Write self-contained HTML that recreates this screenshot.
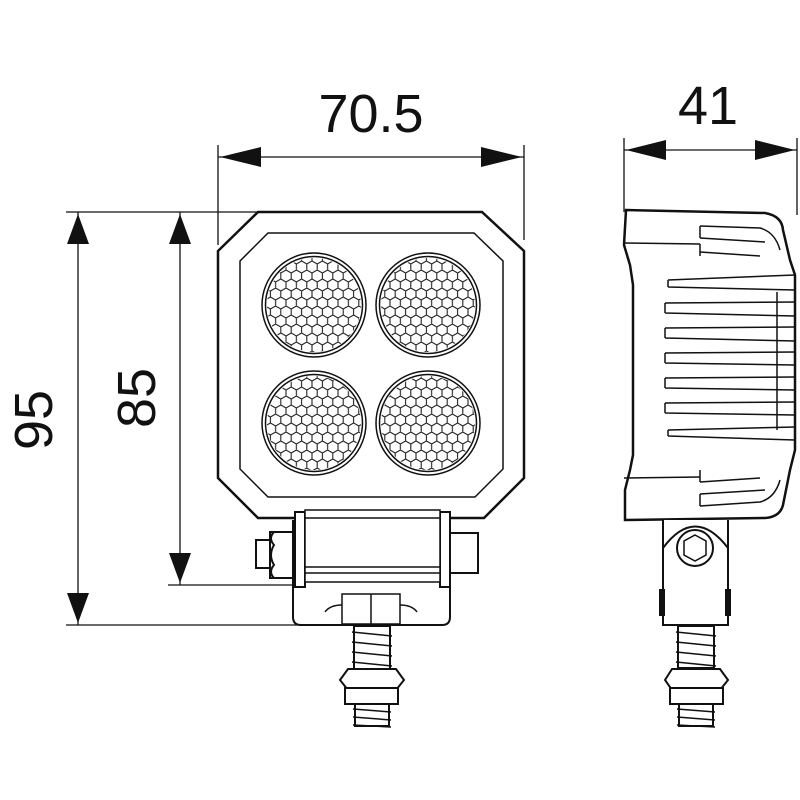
<!DOCTYPE html>
<html><head><meta charset="utf-8"><style>
html,body{margin:0;padding:0;background:#fff;}
svg{display:block;}
text{font-family:"Liberation Sans",sans-serif;fill:#111;}
</style></head><body>
<svg width="800" height="800" viewBox="0 0 800 800" xmlns="http://www.w3.org/2000/svg">
<defs>
<pattern id="hex" width="10.4" height="18" patternUnits="userSpaceOnUse">
<path d="M0,3 L5.2,0 L10.4,3 L10.4,9 L5.2,12 L0,9 Z M5.2,12 L5.2,18 M0,9 L0,3" fill="none" stroke="#222" stroke-width="1.1"/>
</pattern>
<clipPath id="c1"><circle cx="314" cy="305" r="47"/></clipPath>
<clipPath id="c2"><circle cx="428" cy="305" r="47"/></clipPath>
<clipPath id="c3"><circle cx="314" cy="423" r="47"/></clipPath>
<clipPath id="c4"><circle cx="428" cy="423" r="47"/></clipPath>
</defs>
<g stroke="#111" fill="none">
<!-- dimension lines -->
<g stroke-width="1.3">
<line x1="218" y1="145" x2="218" y2="245"/>
<line x1="524" y1="145" x2="524" y2="240"/>
<line x1="218" y1="157" x2="524" y2="157"/>
<line x1="624" y1="138" x2="624" y2="212"/>
<line x1="797" y1="138" x2="797" y2="215"/>
<line x1="624" y1="150" x2="797" y2="150"/>
<line x1="66" y1="212" x2="300" y2="212"/>
<line x1="168" y1="585" x2="292" y2="585"/>
<line x1="66" y1="625" x2="300" y2="625"/>
<line x1="78" y1="212" x2="78" y2="625"/>
<line x1="180" y1="212" x2="180" y2="585"/>
</g>
</g>
<g fill="#111">
<polygon points="220,157 261,147 261,167"/>
<polygon points="522,157 481,147 481,167"/>
<polygon points="626,150 666,140 666,160"/>
<polygon points="795,150 755,140 755,160"/>
<polygon points="78,214 67,244 89,244"/>
<polygon points="78,623 67,593 89,593"/>
<polygon points="180,214 169,244 191,244"/>
<polygon points="180,583 169,553 191,553"/>
</g>
<text x="371" y="132" font-size="54" text-anchor="middle">70.5</text>
<text x="708" y="124" font-size="54" text-anchor="middle">41</text>
<text transform="translate(52,420) rotate(-90)" font-size="54" text-anchor="middle">95</text>
<text transform="translate(155,398) rotate(-90)" font-size="54" text-anchor="middle">85</text>

<!-- front view -->
<g stroke="#111" fill="none">
<path d="M258,212 L482,212 L524,251 L524,478 L484,518 L258,518 L218,478 L218,251 Z" stroke-width="2.5" fill="#fff"/>
<path d="M268,233 L474,233 L503,261 L503,469 L475,497 L268,497 L240,469 L240,261 Z" stroke-width="1.5"/>
<g stroke-width="1.5">
<circle cx="314" cy="305" r="52"/><circle cx="314" cy="305" r="48.5"/>
<circle cx="428" cy="305" r="52"/><circle cx="428" cy="305" r="48.5"/>
<circle cx="314" cy="423" r="52"/><circle cx="314" cy="423" r="48.5"/>
<circle cx="428" cy="423" r="52"/><circle cx="428" cy="423" r="48.5"/>
</g>
<rect x="262" y="253" width="104" height="104" fill="url(#hex)" clip-path="url(#c1)" stroke="none"/>
<rect x="376" y="253" width="104" height="104" fill="url(#hex)" clip-path="url(#c2)" stroke="none"/>
<rect x="262" y="371" width="104" height="104" fill="url(#hex)" clip-path="url(#c3)" stroke="none"/>
<rect x="376" y="371" width="104" height="104" fill="url(#hex)" clip-path="url(#c4)" stroke="none"/>
<!-- bracket -->
<g stroke-width="2">
<path d="M293,520 L293,617 Q293,625 301,625 L442,625 Q450,625 450,617 L450,520" fill="#fff"/>
<rect x="295" y="512" width="10" height="75" fill="#fff"/>
<rect x="440" y="512" width="10" height="75" fill="#fff"/>
<rect x="305" y="510" width="135" height="72" fill="#fff" stroke-width="1.5"/>
<line x1="305" y1="518" x2="440" y2="518" stroke-width="1.5"/>
<line x1="305" y1="567" x2="440" y2="567" stroke-width="1.5"/>
<line x1="305" y1="573" x2="440" y2="573" stroke-width="1.5"/>
<rect x="256" y="540" width="14" height="28" fill="#fff"/>
<path d="M270,532 L293,532 L293,578 L270,578 Z" fill="#fff"/>
<path d="M274,532 Q268,538 274,545 Q268,555 274,565 Q268,572 274,578" />
<rect x="450" y="533" width="28" height="40" fill="#fff"/>
<rect x="342" y="594" width="58" height="30" fill="#fff" stroke-width="1.5"/>
<line x1="371" y1="594" x2="371" y2="624" stroke-width="1.5"/>
<path d="M325,612 Q330,605 342,605 M400,605 Q412,605 417,612" stroke-width="1.5"/>
</g>
<!-- bolt front -->
<g stroke-width="2" fill="#fff">
<rect x="354" y="626" width="36" height="46"/>
<path d="M352,632 L392,636 M352,642 L392,646 M352,652 L392,656 M352,662 L392,666" stroke-width="1.5"/>
<path d="M340,680 L348,669 L396,669 L404,680 L396,690 L348,690 Z"/>
<rect x="345" y="688" width="53" height="16"/>
<rect x="355" y="704" width="34" height="22"/>
<path d="M353,709 L391,712 M353,717 L391,720 M353,725 L391,727" stroke-width="1.5"/>
</g>
</g>

<!-- side view -->
<g stroke="#111" fill="none" stroke-width="2">
<path d="M626,210 L765,213 Q782,216 783,230 L790,260 L795,275 L795,450 L790,470 L783,505 Q780,517 765,518 L625,520 L625,490 L630,470 L633,455 L633,285 L630,265 L624,245 Z" fill="#fff" stroke-width="2.5"/>
<g stroke-width="1.5">
<line x1="624" y1="243" x2="700" y2="244"/>
<line x1="624" y1="478" x2="700" y2="477"/>
<path d="M700,226 L760,228 Q775,232 780,250 M700,238 L765,242 M700,252 L760,256"/>
<path d="M700,482 L760,478 M700,494 L765,490 M700,506 L760,502 Q775,498 780,480"/>
<path d="M700,226 L700,238 M700,244 L700,256 M700,470 L700,482 M700,494 L700,506"/>
<path d="M668,280 L795,275 M668,287 L795,290 M668,280 L668,287"/>
<path d="M665,303 L795,302 M665,313 L795,316 M665,303 L665,313"/>
<path d="M665,328 L795,327 M665,338 L795,341 M665,328 L665,338"/>
<path d="M665,353 L795,352 M665,363 L795,365 M665,353 L665,363"/>
<path d="M665,378 L795,377 M665,388 L795,390 M665,378 L665,388"/>
<path d="M665,403 L795,402 M665,413 L795,415 M665,403 L665,413"/>
<path d="M668,430 L795,427 M668,436 L795,440 M668,430 L668,436"/>
<line x1="777" y1="292" x2="777" y2="430"/>
</g>
<!-- mount -->
<path d="M663,520 L663,625 L728,625 L728,520" fill="#fff"/>
<path d="M663,548 Q695,505 728,548"/>
<circle cx="695" cy="548" r="18"/>
<polygon points="695,535 706,541 706,555 695,561 684,555 684,541" stroke-width="1.5"/>
<rect x="660" y="590" width="4" height="25" fill="#111"/>
<rect x="726" y="590" width="4" height="25" fill="#111"/>
<g fill="#fff">
<rect x="678" y="626" width="36" height="42"/>
<path d="M676,632 L716,636 M676,642 L716,646 M676,652 L716,656 M676,662 L716,666" stroke-width="1.5"/>
<path d="M665,680 L672,669 L720,669 L728,680 L720,690 L672,690 Z"/>
<rect x="670" y="688" width="53" height="16"/>
<rect x="679" y="704" width="34" height="22"/>
<path d="M677,709 L715,712 M677,717 L715,720 M677,725 L715,727" stroke-width="1.5"/>
</g>
</g>
</svg>
</body></html>
